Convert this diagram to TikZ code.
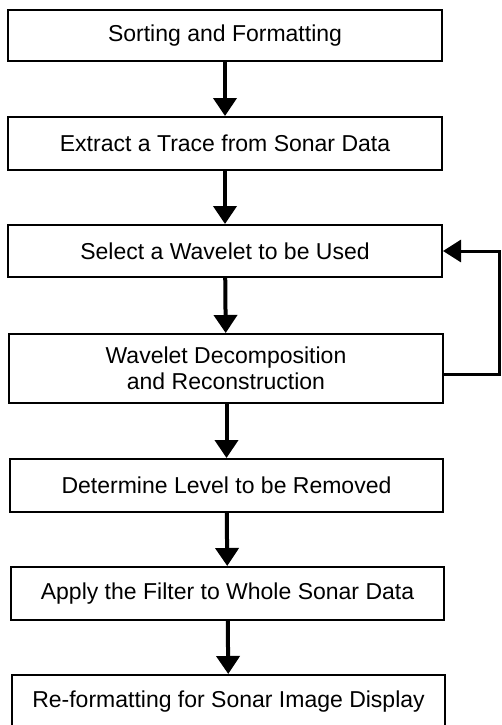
\documentclass[tikz,border=0pt]{standalone}
\usepackage{fontspec}
\setmainfont{Liberation Sans}
\usetikzlibrary{arrows.meta}
\begin{document}
\begin{tikzpicture}[x=1pt,y=-1pt,
  stepbox/.style={draw=black, line width=2pt, rectangle, minimum width=434pt, inner sep=0pt, align=center, font=\fontsize{23}{26}\selectfont},
  flow/.style={line width=4pt, -{Triangle[length=18pt,width=23pt]}}]
\useasboundingbox (0,0) rectangle (501,725);
\node[stepbox, minimum height=51pt] (b1) at (225,35.5) {Sorting and Formatting};
\node[stepbox, minimum height=53pt] (b2) at (225,143.5) {Extract a Trace from Sonar Data};
\node[stepbox, minimum height=52pt] (b3) at (225,251) {Select a Wavelet to be Used};
\node[stepbox, minimum height=69pt] (b4) at (226,368.5) {Wavelet Decomposition\\ and Reconstruction};
\node[stepbox, minimum height=53pt, minimum width=433pt] (b5) at (226.5,485.5) {Determine Level to be Removed};
\node[stepbox, minimum height=53pt, minimum width=433pt] (b6) at (227.5,593.5) {Apply the Filter to Whole Sonar Data};
\node[stepbox, minimum height=53pt, minimum width=433pt] (b7) at (228.5,701.5) {Re-formatting for Sonar Image Display};
\draw[flow] (b1) -- (b2);
\draw[flow] (b2) -- (b3);
\draw[flow] (b3) -- (b4);
\draw[flow] (b4.south -| b5.north) -- (b5);
\draw[flow] (b5) -- (b6);
\draw[flow] (b6) -- (b7);
\coordinate (fb) at (499,374);
\draw[line width=3pt, -{Triangle[length=18pt,width=22pt]}] (b4.east |- fb) -- (fb) |- (b3.east);
\end{tikzpicture}
\end{document}
